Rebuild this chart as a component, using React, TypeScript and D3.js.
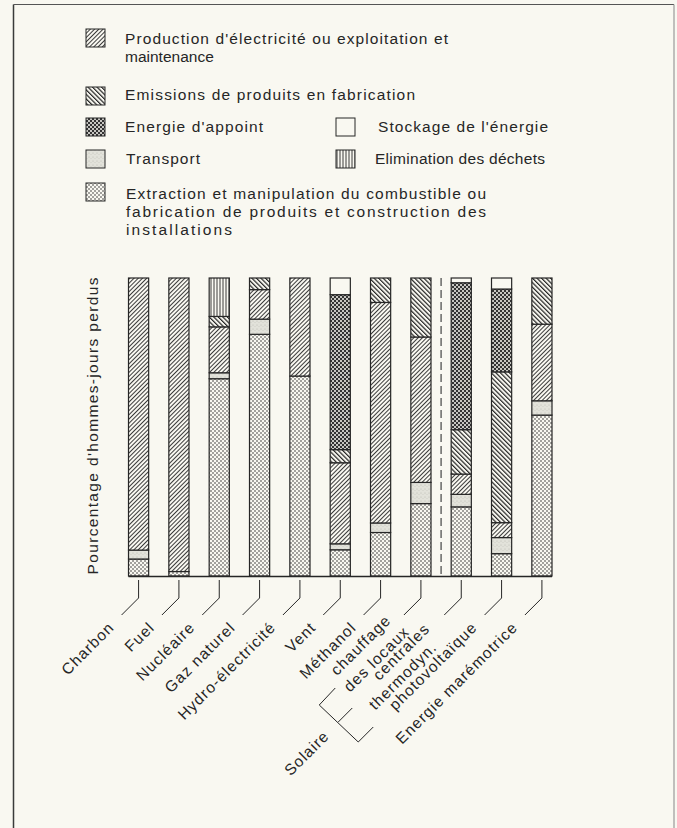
import React from 'react'
import * as d3 from 'd3'

// categories (bottom axis)
const categories = ['Charbon', 'Fuel', 'Nucléaire', 'Gaz naturel', 'Hydro-électricité', 'Vent', 'Méthanol',
  'chauffage des locaux', 'centrales thermodyn.', 'photovoltaïque', 'Energie marémotrice']
const categoryLines = [['Charbon'], ['Fuel'], ['Nucléaire'], ['Gaz naturel'], ['Hydro-électricité'], ['Vent'],
  ['Méthanol'], ['chauffage', 'des locaux'], ['centrales', 'thermodyn.'], ['photovoltaïque'], ['Energie marémotrice']]
const solarGroup = 'Solaire'

// percentages of man-days lost, stacked bottom to top
const extraction = [5.7, 1.5, 66.2, 81.1, 67.1, 8.8, 14.6, 24.3, 23.2, 7.5, 54.0]
const transport = [3.0, 0, 2.0, 5.1, 0, 2.0, 3.2, 7.1, 4.2, 5.4, 4.8]
const production = [91.3, 98.5, 15.4, 9.9, 32.9, 27.2, 74.0, 48.8, 6.8, 5.0, 25.7]
const emissions = [0, 0, 3.5, 3.9, 0, 4.4, 8.2, 19.8, 14.9, 50.6, 15.5]
const appoint = [0, 0, 0, 0, 0, 52.0, 0, 0, 49.3, 27.8, 0]
const stockage = [0, 0, 0, 0, 0, 5.6, 0, 0, 1.6, 3.7, 0]
const elimination = [0, 0, 12.9, 0, 0, 0, 0, 0, 0, 0, 0]

const seriesKeys = ['extraction', 'transport', 'production', 'emissions', 'appoint', 'stockage', 'elimination']
const seriesValues: Record<string, number[]> = { extraction, transport, production, emissions, appoint, stockage, elimination }

const yTitle = "Pourcentage d'hommes-jours perdus"

// legend texts and where they sit  [text, x, baseline, width]
const legendLayout = [
  { key: 'production', sx: 86, sy: 29, lines: [["Production d'électricité ou exploitation et", 125, 44, 323], ['maintenance', 125, 62, 0]] },
  { key: 'emissions', sx: 86, sy: 87, lines: [['Emissions de produits en fabrication', 125, 100, 290]] },
  { key: 'appoint', sx: 86, sy: 118, lines: [["Energie d'appoint", 125, 132, 138]] },
  { key: 'stockage', sx: 336, sy: 118, lines: [["Stockage de l'énergie", 378, 132, 170]] },
  { key: 'transport', sx: 86, sy: 150, lines: [['Transport', 126, 164, 74]] },
  { key: 'elimination', sx: 336, sy: 150, lines: [['Elimination des déchets', 375, 164, 170]] },
  { key: 'extraction', sx: 86, sy: 183, lines: [['Extraction et manipulation du combustible ou', 126, 199, 360],
    ['fabrication de produits et construction des', 126, 217, 360], ['installations', 126, 235, 106]] },
]

// label placement in the rotated frame: [along, across] for line 1 and line 2
const labelPlace: Record<string, number[]> = {
  'chauffage des locaux': [-13, -4, -8, 17],
  'centrales thermodyn.': [-20, 1, -28, 19],
}
const singlePlace = [-14, 5]

const W = 677
const H = 828
const BG = '#f9f8f1'
const INK = '#262626'
const FONT = '"Liberation Sans", Arial, Helvetica, sans-serif'

const fills: Record<string, string> = {
  extraction: 'url(#p-extraction)',
  transport: 'url(#p-transport)',
  production: 'url(#p-production)',
  emissions: 'url(#p-emissions)',
  appoint: 'url(#p-appoint)',
  stockage: BG,
  elimination: 'url(#p-elimination)',
}

// rotated (-45deg) local offset -> screen offset
const rot = (a: number, p: number) => [0.7071 * (a + p), 0.7071 * (p - a)]

export default function App() {
  const x = d3.scaleBand<string>().domain(categories).range([128.5, 552]).paddingInner(0.5).paddingOuter(0)
  const y = d3.scaleLinear().domain([0, 100]).range([576, 278])
  const bw = x.bandwidth()

  const table = categories.map((c, i) => {
    const row: Record<string, any> = { cat: c }
    seriesKeys.forEach(k => { row[k] = seriesValues[k][i] })
    return row
  })
  const stacked = d3.stack<any>().keys(seriesKeys)(table)

  const cx = (c: string) => (x(c) as number) + bw / 2
  const leaderEnd = (c: string) => [cx(c) - 17, 615]

  const sepX = ((x(categories[7]) as number) + bw + (x(categories[8]) as number)) / 2
  const [bx, by] = leaderEnd(categories[8])
  const bracket = `M${bx - 109},${by + 73} L${bx - 125},${by + 90} L${bx - 86},${by + 127} L${bx - 71},${by + 112} ` +
    `M${bx - 106},${by + 107} L${bx - 92},${by + 93}`

  const txt = { fontFamily: FONT, fontSize: 15.5, fill: INK }

  return (
    <svg width={W} height={H} style={{ position: 'absolute', left: 0, top: 0 }}>
      <defs>
        <pattern id="p-production" width={3} height={3} patternUnits="userSpaceOnUse" patternTransform="rotate(45)">
          <rect width={3} height={3} fill={BG} />
          <line x1={0.5} y1={0} x2={0.5} y2={3} stroke={INK} strokeWidth={0.9} />
        </pattern>
        <pattern id="p-emissions" width={3.2} height={3.2} patternUnits="userSpaceOnUse" patternTransform="rotate(-45)">
          <rect width={3.2} height={3.2} fill={BG} />
          <line x1={0.6} y1={0} x2={0.6} y2={3.2} stroke={INK} strokeWidth={1.2} />
        </pattern>
        <pattern id="p-elimination" width={3} height={3} patternUnits="userSpaceOnUse">
          <rect width={3} height={3} fill={BG} />
          <line x1={1} y1={0} x2={1} y2={3} stroke={INK} strokeWidth={0.9} />
        </pattern>
        <pattern id="p-appoint" width={4} height={4} patternUnits="userSpaceOnUse">
          <rect width={4} height={4} fill="#333" />
          <circle cx={1} cy={1} r={1} fill={BG} />
          <circle cx={3} cy={3} r={1} fill={BG} />
        </pattern>
        <pattern id="p-extraction" width={4} height={4} patternUnits="userSpaceOnUse">
          <rect width={4} height={4} fill={BG} />
          <circle cx={1} cy={1} r={0.8} fill="#333" />
          <circle cx={3} cy={3} r={0.8} fill="#333" />
        </pattern>
        <pattern id="p-transport" width={4} height={4} patternUnits="userSpaceOnUse">
          <rect width={4} height={4} fill="#e2e2da" />
          <circle cx={1} cy={1} r={0.6} fill="#b9b9b1" />
          <circle cx={3} cy={2.5} r={0.5} fill="#c8c8c0" />
        </pattern>
      </defs>

      <rect width={W} height={H} fill={BG} />
      {/* frame */}
      <line x1={13.5} y1={4.5} x2={13.5} y2={H} stroke="#3a3a3a" strokeWidth={1.5} />
      <line x1={13.5} y1={4.5} x2={674} y2={4.5} stroke="#555" strokeWidth={1.2} />
      <line x1={674} y1={4.5} x2={674} y2={H} stroke="#999" strokeWidth={1.2} />

      {/* legend */}
      {legendLayout.map(l => (
        <g key={l.key}>
          <rect x={l.sx} y={l.sy} width={19} height={18} fill={fills[l.key]} stroke={INK} strokeWidth={1} />
          {l.lines.map((ln: any, j: number) => (
            ln[3] > 0
              ? <text key={j} x={ln[1]} y={ln[2]} textLength={ln[3]} lengthAdjust="spacing" {...txt}>{ln[0]}</text>
              : <text key={j} x={ln[1]} y={ln[2]} {...txt}>{ln[0]}</text>
          ))}
        </g>
      ))}

      {/* y title */}
      <text transform={`translate(98,${y(50) - 1}) rotate(-90)`} textAnchor="middle" textLength={297}
        lengthAdjust="spacing" {...txt}>{yTitle}</text>

      {/* stacked bars */}
      {stacked.map(s => (
        <g key={s.key}>
          {s.map((d, i) => d[1] - d[0] > 0 ? (
            <rect key={i} x={x(categories[i])} y={y(d[1])} width={bw} height={y(d[0]) - y(d[1])}
              fill={fills[s.key]} stroke={INK} strokeWidth={1.2} />
          ) : null)}
        </g>
      ))}

      {/* baseline */}
      <line x1={x(categories[0])} x2={(x(categories[10]) as number) + bw} y1={y(0) + 0.5} y2={y(0) + 0.5}
        stroke={INK} strokeWidth={1.5} />

      {/* separator between conventional and solar */}
      <line x1={sepX} x2={sepX} y1={y(100)} y2={y(0)} stroke="#444" strokeWidth={1.2} strokeDasharray="8 4" />

      {/* category leaders and labels */}
      {categories.map((c, i) => {
        const [ex, ey] = leaderEnd(c)
        const pl = labelPlace[c] || singlePlace
        return (
          <g key={c}>
            <path d={`M${cx(c)},${y(0) + 4} V${y(0) + 22} L${ex},${ey}`} fill="none" stroke={INK} strokeWidth={1} />
            {categoryLines[i].map((t, j) => {
              const [ox, oy] = rot(pl[j * 2], pl[j * 2 + 1])
              return (
                <text key={j} transform={`translate(${ex + ox},${ey + oy}) rotate(-45)`} textAnchor="end"
                  letterSpacing={1.1} {...txt}>{t}</text>
              )
            })}
          </g>
        )
      })}

      {/* solar bracket */}
      <path d={bracket} fill="none" stroke={INK} strokeWidth={1} />
      <text transform={`translate(${bx - 114},${by + 122}) rotate(-45)`} textAnchor="end" letterSpacing={1.1}
        {...txt}>{solarGroup}</text>
    </svg>
  )
}
